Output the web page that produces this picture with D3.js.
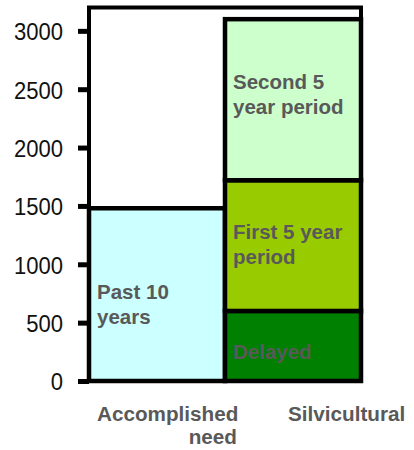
<!DOCTYPE html>
<html>
<head>
<meta charset="utf-8">
<script src="https://cdn.jsdelivr.net/npm/d3@7"></script>
<style>
    body { margin: 0; background: #fff; }
    text { font-family: "Liberation Sans", Arial, sans-serif; }
</style>
</head>
<body>
<div id="chart"></div>
<script>
const width = 414;
const height = 450;

// data
const categories = ["Accomplished", "Silvicultural"];
const segments = ["Past 10 years", "Delayed", "First 5 year period", "Second 5 year period"];
const accomplished = [1480, 0, 0, 0];
const silvicultural = [0, 600, 1120, 1380];
const segmentColors = ["#ccffff", "#008000", "#99cc00", "#ccffcc"];
const segmentLines = [["Past 10", "years"], ["Delayed"], ["First 5 year", "period"], ["Second 5", "year period"]];
const yTicks = [0, 500, 1000, 1500, 2000, 2500, 3000];

const margin = { top: 7.5, right: 53, bottom: 69, left: 89 };

const svg = d3.select("#chart")
    .append("svg")
    .attr("width", width)
    .attr("height", height);

const x = d3.scaleBand()
    .domain(categories)
    .range([margin.left, width - margin.right])
    .padding(0);

const y = d3.scaleLinear()
    .domain([0, 3200])
    .range([height - margin.bottom, margin.top]);

// stack rows
const rows = [accomplished, silvicultural].map((vals, i) => {
    const row = { category: categories[i] };
    segments.forEach((s, j) => row[s] = vals[j]);
    return row;
});
const stacked = d3.stack().keys(segments)(rows);

const rects = [];
stacked.forEach((layer, j) => {
    layer.forEach(d => {
        if (d[1] - d[0] > 0) rects.push({ seg: j, cat: d.data.category, y0: d[0], y1: d[1] });
    });
});

// plot frame
svg.append("rect")
    .attr("x", x.range()[0])
    .attr("y", y(3200))
    .attr("width", x.range()[1] - x.range()[0])
    .attr("height", y(0) - y(3200))
    .attr("fill", "none")
    .attr("stroke", "#000")
    .attr("stroke-width", 4);

// bars
svg.append("g")
    .selectAll("rect")
    .data(rects)
    .enter()
    .append("rect")
    .attr("x", d => x(d.cat))
    .attr("y", d => y(d.y1))
    .attr("width", x.bandwidth())
    .attr("height", d => y(d.y0) - y(d.y1))
    .attr("fill", d => segmentColors[d.seg])
    .attr("stroke", "#000")
    .attr("stroke-width", 4.5);

// segment labels (first baseline offset from segment top, px)
const labelOffset = [91, 48, 59, 70];
svg.append("g")
    .selectAll("text")
    .data(rects)
    .enter()
    .append("text")
    .attr("x", d => x(d.cat) + 8)
    .attr("y", d => y(d.y1) + labelOffset[d.seg])
    .attr("fill", "#595959")
    .style("font-size", "20.5px")
    .style("font-weight", "bold")
    .each(function(d) {
        const t = d3.select(this);
        segmentLines[d.seg].forEach((line, k) => {
            t.append("tspan")
                .attr("x", x(d.cat) + 8)
                .attr("dy", k === 0 ? 0 : 25)
                .text(line);
        });
    });

// y axis
const yAxis = svg.append("g")
    .attr("transform", `translate(${margin.left},0)`)
    .call(d3.axisLeft(y).tickValues(yTicks).tickFormat(d3.format("d"))
        .tickSize(11).tickPadding(15).tickSizeOuter(0));
yAxis.select(".domain").remove();
yAxis.selectAll(".tick line").attr("stroke", "#000").attr("stroke-width", 5);
yAxis.selectAll(".tick text")
    .attr("fill", "#111")
    .attr("x", -26 / 0.9)
    .attr("dy", "0.36em")
    .attr("transform", "scale(0.9,1)")
    .style("font-size", "24.5px");

// category labels
const catLabels = [
    { cat: "Accomplished", lines: [["Accomplished", 8, 421, "start"]] },
    { cat: "Silvicultural", lines: [["Silvicultural", 63, 421, "start"], ["need", 12, 444, "end"]] }
];
svg.append("g")
    .selectAll("text")
    .data(catLabels.flatMap(c => c.lines.map(l => ({ cat: c.cat, text: l[0], dx: l[1], y: l[2], anchor: l[3] }))))
    .enter()
    .append("text")
    .attr("x", d => x(d.cat) + d.dx)
    .attr("y", d => d.y)
    .attr("text-anchor", d => d.anchor)
    .attr("fill", "#595959")
    .style("font-size", "20.7px")
    .style("font-weight", "bold")
    .text(d => d.text);
</script>
</body>
</html>
